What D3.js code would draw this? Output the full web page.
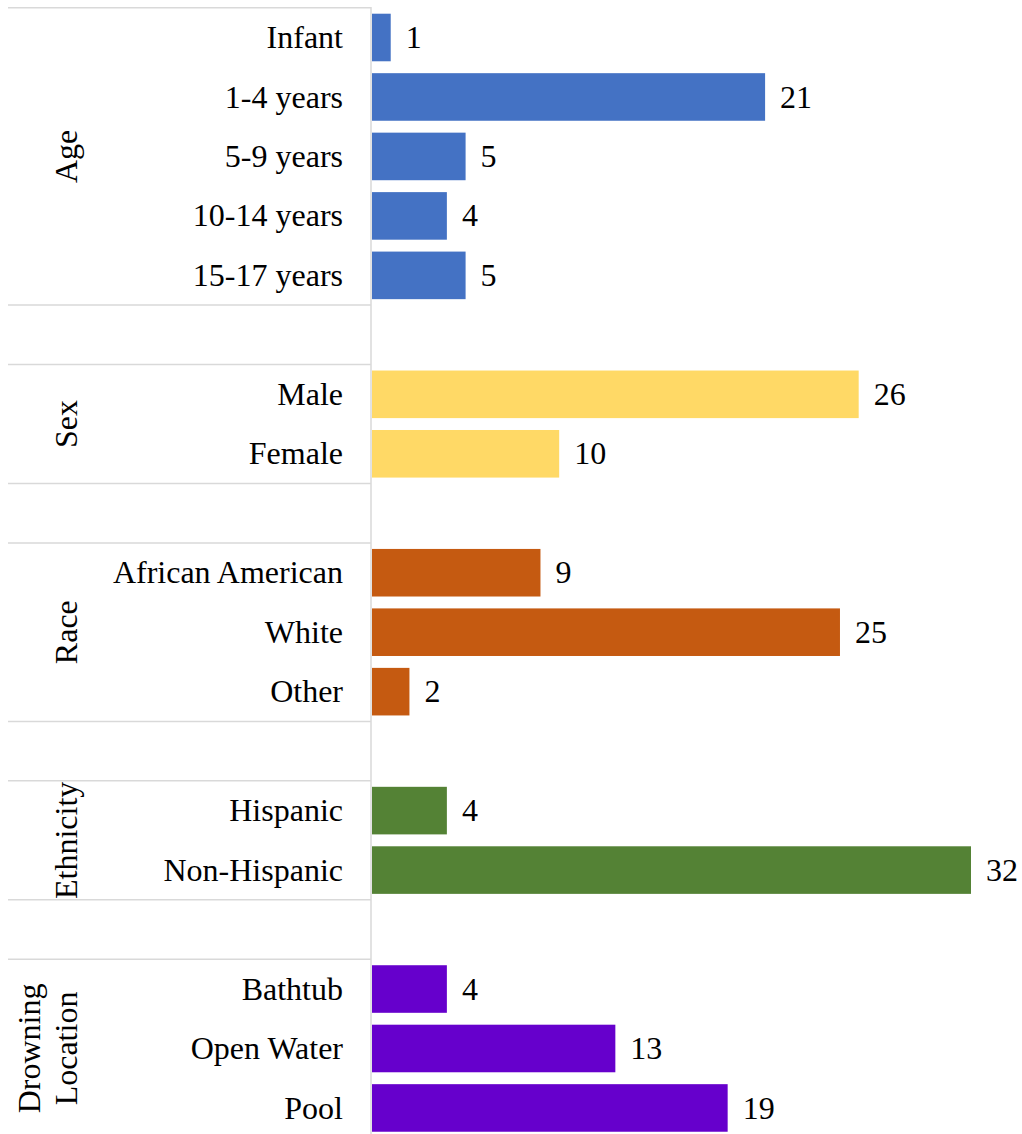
<!DOCTYPE html>
<html>
<head>
<meta charset="utf-8">
<script src="https://cdn.jsdelivr.net/npm/d3@7"></script>
<style>
  html, body { margin: 0; padding: 0; background: #fff; }
  svg { display: block; }
  text { font-family: "Liberation Serif", "Times New Roman", serif; fill: #000; }
</style>
</head>
<body>
<svg id="chart" width="1022" height="1134"></svg>
<script>
const groupNames = ["Age", "Sex", "Race", "Ethnicity", "Drowning Location"];
const categories = [
  ["Infant", "1-4 years", "5-9 years", "10-14 years", "15-17 years"],
  ["Male", "Female"],
  ["African American", "White", "Other"],
  ["Hispanic", "Non-Hispanic"],
  ["Bathtub", "Open Water", "Pool"]
];
const values = [
  [1, 21, 5, 4, 5],
  [26, 10],
  [9, 25, 2],
  [4, 32],
  [4, 13, 19]
];
const groupColors = ["#4472C4", "#FFD966", "#C55A11", "#548235", "#6600CC"];

(function draw() {
  // build rows (with blank spacer rows between groups)
  const rows = [];
  groupNames.forEach((g, gi) => {
    categories[gi].forEach((c, ci) => {
      rows.push({ key: g + "|" + c, group: gi, label: c, value: values[gi][ci] });
    });
    if (gi < groupNames.length - 1) rows.push({ key: "blank" + gi, group: gi, blank: true });
  });

  const svg = d3.select("#chart");
  const FS = 32;
  const topY = 7.76, step = 59.47;
  const y = d3.scaleBand()
    .domain(rows.map(r => r.key))
    .range([topY, topY + step * rows.length])
    .paddingInner(0.2)
    .paddingOuter(0.1);
  const x = d3.scaleLinear().domain([0, 32]).range([372, 971]);
  const axisX = 371;

  // group separator lines
  const gridColor = "#d9d9d9";
  const sepYs = [topY];
  let idx = 0;
  groupNames.forEach((g, gi) => {
    idx += categories[gi].length;
    if (gi < groupNames.length - 1) {
      sepYs.push(topY + idx * y.step());
      idx += 1;
      sepYs.push(topY + idx * y.step());
    }
  });
  svg.append("g").selectAll("line").data(sepYs).join("line")
    .attr("x1", 8).attr("x2", axisX)
    .attr("y1", d => d).attr("y2", d => d)
    .attr("stroke", gridColor).attr("stroke-width", 1.5);

  // vertical axis line
  svg.append("line")
    .attr("x1", axisX).attr("x2", axisX)
    .attr("y1", topY - 0.75).attr("y2", 1134)
    .attr("stroke", gridColor).attr("stroke-width", 1.5);

  const dataRows = rows.filter(r => !r.blank);

  // bars
  svg.append("g").selectAll("rect").data(dataRows).join("rect")
    .attr("x", x(0))
    .attr("y", d => y(d.key))
    .attr("width", d => x(d.value) - x(0))
    .attr("height", y.bandwidth())
    .attr("fill", d => groupColors[d.group]);

  // category labels
  svg.append("g").selectAll("text").data(dataRows).join("text")
    .attr("x", 343)
    .attr("y", d => y(d.key) + y.bandwidth() / 2)
    .attr("dy", "0.33em")
    .attr("text-anchor", "end")
    .attr("font-size", FS)
    .text(d => d.label);

  // value labels
  svg.append("g").selectAll("text").data(dataRows).join("text")
    .attr("x", d => x(d.value) + 15)
    .attr("y", d => y(d.key) + y.bandwidth() / 2)
    .attr("dy", "0.33em")
    .attr("font-size", FS)
    .text(d => d.value);

  // group labels (rotated)
  let start = 0;
  groupNames.forEach((g, gi) => {
    const n = categories[gi].length;
    const cy = topY + (start + n / 2) * y.step();
    start += n + 1;
    const words = g.split(" ");
    const lineGap = 37;
    words.forEach((w, wi) => {
      const bx = 77 - (words.length - 1 - wi) * lineGap;
      svg.append("text")
        .attr("transform", `translate(${bx},${cy}) rotate(-90)`)
        .attr("text-anchor", "middle")
        .attr("font-size", FS)
        .text(w);
    });
  });
})();
</script>
</body>
</html>
